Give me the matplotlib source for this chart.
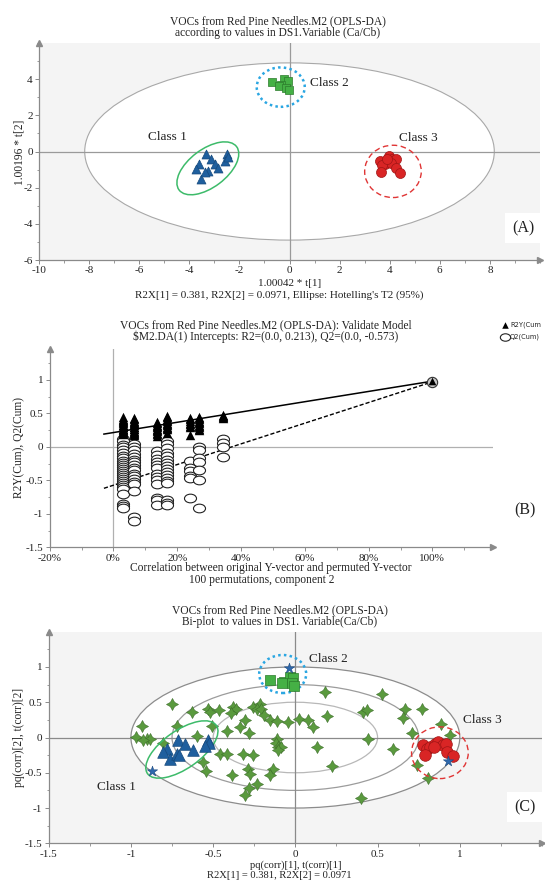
import matplotlib
matplotlib.use("Agg")
import matplotlib.pyplot as plt
import numpy as np
from matplotlib.patches import Ellipse, Circle
from matplotlib import transforms
from matplotlib.path import Path
from matplotlib.ticker import MultipleLocator, FuncFormatter

plt.rcParams['font.family'] = ['Liberation Serif', 'DejaVu Serif']

# ---------------- Panel A data (score plot) ----------------
a_class1_x = [-3.33, -3.60, -3.74, -3.12, -2.98, -2.84, -3.26, -3.54, -2.49, -2.56, -2.45, -3.38]
a_class1_y = [-0.15, -0.70, -0.98, -0.43, -0.70, -0.89, -1.07, -1.53, -0.15, -0.52, -0.33, -1.15]
a_class2_x = [-0.68, -0.20, -0.06, -0.34, -0.41, -0.13, -0.02]
a_class2_y = [3.82, 4.00, 3.91, 3.67, 3.60, 3.49, 3.39]
a_class3_x = [3.62, 3.83, 3.97, 4.08, 4.25, 4.04, 3.70, 3.67, 4.25, 4.43, 3.90]
a_class3_y = [-0.55, -0.70, -0.24, -0.43, -0.43, -0.61, -0.74, -1.16, -0.94, -1.20, -0.43]
a_class_labels = ["Class 1", "Class 2", "Class 3"]
a_xticks = [-10, -8, -6, -4, -2, 0, 2, 4, 6, 8]
a_yticks = [-6, -4, -2, 0, 2, 4]

# ---------------- Panel B data (permutation test) ----------------
b_xcols = [3.0, 6.4, 13.7, 16.8, 24.0, 26.9, 34.4]
b_r2 = [
    [0.44, 0.42, 0.40, 0.38, 0.37, 0.35, 0.33, 0.32, 0.30, 0.29, 0.27, 0.26, 0.25, 0.23, 0.22, 0.20, 0.19],
    [0.43, 0.41, 0.39, 0.37, 0.35, 0.34, 0.32, 0.30, 0.29, 0.27, 0.26, 0.24, 0.22, 0.21, 0.19, 0.17],
    [0.37, 0.35, 0.33, 0.31, 0.29, 0.27, 0.25, 0.23, 0.21, 0.19, 0.16],
    [0.46, 0.44, 0.42, 0.40, 0.38, 0.36, 0.34, 0.32, 0.30, 0.28, 0.26, 0.21],
    [0.43, 0.41, 0.38, 0.36, 0.34, 0.31, 0.29, 0.17],
    [0.45, 0.43, 0.41, 0.39, 0.37, 0.35, 0.33, 0.31, 0.29, 0.27, 0.25],
    [0.48, 0.46, 0.44, 0.43],
]
b_q2 = [
    [0.12, 0.08, 0.03, -0.01, -0.05, -0.09, -0.13, -0.17, -0.21, -0.24, -0.27, -0.30, -0.33, -0.36,
     -0.39, -0.42, -0.45, -0.48, -0.51, -0.54, -0.57, -0.60, -0.63, -0.70, -0.85, -0.88, -0.92],
    [0.04, 0.0, -0.05, -0.10, -0.15, -0.19, -0.23, -0.27, -0.31, -0.35, -0.40, -0.44, -0.48, -0.52,
     -0.56, -0.66, -1.05, -1.10],
    [-0.07, -0.12, -0.18, -0.22, -0.27, -0.32, -0.40, -0.45, -0.50, -0.55, -0.76, -0.80, -0.87],
    [0.08, 0.04, -0.02, -0.09, -0.14, -0.19, -0.24, -0.28, -0.33, -0.37, -0.42, -0.46, -0.51, -0.54,
     -0.80, -0.84, -0.87],
    [-0.21, -0.31, -0.36, -0.44, -0.47, -0.76],
    [-0.01, -0.05, -0.16, -0.22, -0.35, -0.49, -0.91],
    [0.12, 0.05, -0.01, -0.15],
]
b_model_x = 100.0
b_model_r2 = 0.98
b_model_q2 = 0.97
b_r2_intercept = 0.213
b_q2_intercept = -0.573
b_xticks = [-20, 0, 20, 40, 60, 80, 100]
b_yticks = [-1.5, -1, -0.5, 0, 0.5, 1]

# ---------------- Panel C data (bi-plot) ----------------
c_var_x = [0.18, 0.53, -0.75, -0.63, -0.533, -0.519, -0.462, -0.378, -0.361, -0.391, -0.256, -0.215,
           -0.236, -0.206, -0.306, -0.155, -0.114, -0.043, 0.024, 0.075, 0.109, 0.19, 0.413, 0.434,
           -0.933, -0.721, -0.507, -0.418, -0.337, -0.28, -0.969, -0.904, -0.884, -0.925, -0.803, -0.6,
           -0.114, -0.118, -0.104, -0.088, 0.129, 0.443, 0.591, -0.458, -0.418, -0.316, -0.256, -0.56,
           -0.543, -0.387, -0.287, -0.276, -0.134, -0.155, 0.22, -0.236, -0.28, -0.306, 0.398, 0.666,
           0.768, 0.656, 0.888, 0.709, 0.941, 0.74, 0.807, -0.19, -0.105]
c_var_y = [0.64, 0.61, 0.47, 0.36, 0.40, 0.36, 0.39, 0.43, 0.40, 0.35, 0.435, 0.47,
           0.40, 0.41, 0.246, 0.246, 0.236, 0.22, 0.26, 0.246, 0.142, 0.30, 0.364, 0.388,
           0.16, 0.16, 0.16, 0.089, 0.142, 0.07, 0.01, -0.02, -0.02, -0.04, -0.085, 0.023,
           -0.015, -0.085, -0.14, -0.133, -0.133, -0.015, -0.156, -0.227, -0.227, -0.237, -0.251, -0.346,
           -0.479, -0.536, -0.44, -0.511, -0.44, -0.536, -0.408, -0.654, -0.715, -0.82, -0.852, 0.40,
           0.40, 0.28, 0.19, 0.057, 0.033, -0.39, -0.58, 0.317, -0.18]
c_centroid_x = [-0.036, -0.872, 0.93]
c_centroid_y = [0.98, -0.473, -0.33]
c_class1_x = [-0.716, -0.671, -0.624, -0.533, -0.525, -0.55, -0.782, -0.807, -0.763, -0.721, -0.706]
c_class1_y = [-0.03, -0.095, -0.18, -0.04, -0.085, -0.124, -0.157, -0.204, -0.30, -0.227, -0.251]
c_class2_x = [-0.155, -0.069, -0.033, -0.013, -0.022, -0.007, -0.083]
c_class2_y = [0.814, 0.79, 0.86, 0.84, 0.776, 0.733, 0.776]
c_class3_x = [0.774, 0.798, 0.818, 0.849, 0.869, 0.899, 0.915, 0.92, 0.96, 0.788, 0.845]
c_class3_y = [-0.109, -0.157, -0.133, -0.086, -0.062, -0.109, -0.095, -0.204, -0.265, -0.25, -0.133]
c_rings = [1.0, 0.75, 0.5]
c_xticks = [-1.5, -1, -0.5, 0, 0.5, 1]
c_yticks = [-1.5, -1, -0.5, 0, 0.5, 1]

# ---------------- figure ----------------
W, H = 545, 882
fig = plt.figure(figsize=(W / 100, H / 100), dpi=100)


def fx(px):
    return px / W


def fy(py):
    return 1 - py / H


def axes_px(l, t, r, b):
    return fig.add_axes([fx(l), fy(b), (r - l) / W, (b - t) / H])


AX_GRAY = '#8a8a8a'
BG = '#f4f4f4'
TXT = '#222222'


def style_axes(ax):
    for s in ['top', 'right']:
        ax.spines[s].set_visible(False)
    for s in ['left', 'bottom']:
        ax.spines[s].set_color(AX_GRAY)
        ax.spines[s].set_linewidth(0.9)
    ax.tick_params(which='major', length=3, width=0.7, color=AX_GRAY, labelsize=8, labelcolor=TXT, pad=1.5)
    ax.tick_params(which='minor', length=1.8, width=0.6, color=AX_GRAY)
    ax.plot(1, 0, '>', transform=ax.transAxes, clip_on=False, color=AX_GRAY, ms=4.5, zorder=10)
    ax.plot(0, 1, '^', transform=ax.transAxes, clip_on=False, color=AX_GRAY, ms=4.5, zorder=10)


def num_fmt(v, pos):
    if abs(v - round(v)) < 1e-9:
        return '%d' % round(v)
    return ('%g' % v)


def px_ellipse(ax, cx, cy, wpx, hpx, angle=0, **kw):
    trans = fig.dpi_scale_trans + transforms.ScaledTranslation(cx, cy, ax.transData)
    e = Ellipse((0, 0), wpx / 100, hpx / 100, angle=angle, transform=trans, fill=False, **kw)
    ax.add_patch(e)
    return e


def title_lines(lines, xpx, ypxs, size=8.3):
    for t, yy in zip(lines, ypxs):
        fig.text(fx(xpx), fy(yy), t, ha='center', va='center', fontsize=size, color=TXT)


# ======== Panel A ========
axA = axes_px(39, 43, 540, 260)
axA.set_facecolor(BG)
axA.set_xlim(-10, 10)
axA.set_ylim(-6, 6)
style_axes(axA)
axA.add_patch(Ellipse((0, 0), 16.35, 9.8, facecolor='white', edgecolor='#a8a8a8', lw=0.8, zorder=1))
axA.axhline(0, color='#9a9a9a', lw=0.9, zorder=2)
axA.axvline(0, color='#9a9a9a', lw=0.9, zorder=2)
axA.set_xticks(a_xticks)
axA.set_yticks(a_yticks)
axA.xaxis.set_minor_locator(MultipleLocator(1))
axA.yaxis.set_minor_locator(MultipleLocator(1))
axA.xaxis.set_major_formatter(FuncFormatter(num_fmt))
axA.yaxis.set_major_formatter(FuncFormatter(num_fmt))
axA.scatter(a_class1_x, a_class1_y, marker='^', s=42, c='#1f5f9e', edgecolors='#174a7c', linewidths=0.5, zorder=5)
axA.scatter(a_class2_x, a_class2_y, marker='s', s=38, c='#45b045', edgecolors='#2c7a2c', linewidths=0.5, zorder=5)
axA.scatter(a_class3_x, a_class3_y, marker='o', s=52, c='#d92525', edgecolors='#a01515', linewidths=0.5, zorder=5)
px_ellipse(axA, -3.26, -0.93, 72, 38, angle=37, edgecolor='#3dbb6a', lw=1.1, zorder=4)
px_ellipse(axA, -0.35, 3.56, 48, 39.4, edgecolor='#2aa6e2', lw=1.8, linestyle=(0, (1, 1.3)), zorder=4)
px_ellipse(axA, 4.13, -1.10, 56.6, 52.3, edgecolor='#e03535', lw=1.0, linestyle=(0, (4, 2.5)), zorder=4)
axA.text(-4.86, 0.81, a_class_labels[0], fontsize=9.5, color=TXT, ha='center', va='center')
axA.text(1.61, 3.78, a_class_labels[1], fontsize=9.5, color=TXT, ha='center', va='center')
axA.text(5.15, 0.72, a_class_labels[2], fontsize=9.5, color=TXT, ha='center', va='center')
fig.text(fx(523), fy(228), '(A)', fontsize=11.5, ha='center', va='center', color=TXT,
         bbox=dict(facecolor='white', edgecolor='none', pad=5))
title_lines(['VOCs from Red Pine Needles.M2 (OPLS-DA)',
             'according to values in DS1.Variable (Ca/Cb)'], 278, [21, 33])
fig.text(fx(290), fy(283.5), '1.00042 * t[1]', ha='center', va='center', fontsize=8.0, color=TXT)
fig.text(fx(279), fy(295), "R2X[1] = 0.381, R2X[2] = 0.0971, Ellipse: Hotelling's T2 (95%)",
         ha='center', va='center', fontsize=8.0, color=TXT)
fig.text(fx(19), fy(152), '1.00196 * t[2]', rotation=90, ha='center', va='center', fontsize=8.3, color=TXT)

# ======== Panel B ========
axB = axes_px(49.7, 349, 493, 547.3)
axB.set_facecolor('white')
axB.set_xlim(-20, 119)
axB.set_ylim(-1.5, 1.46)
style_axes(axB)
axB.axhline(0, color='#b0b0b0', lw=0.9, zorder=1)
axB.axvline(0, color='#b0b0b0', lw=0.9, zorder=1)
axB.set_xticks(b_xticks)
axB.set_yticks(b_yticks)
axB.xaxis.set_minor_locator(MultipleLocator(10))
axB.yaxis.set_minor_locator(MultipleLocator(0.25))
axB.xaxis.set_major_formatter(FuncFormatter(lambda v, p: '%d%%' % round(v)))
axB.yaxis.set_major_formatter(FuncFormatter(num_fmt))

ell = Path.unit_circle()
ell_marker = Path(ell.vertices * np.array([1.0, 0.72]), ell.codes)

x0 = -3.0
r2_slope = (b_model_r2 - b_r2_intercept) / b_model_x
q2_slope = (b_model_q2 - b_q2_intercept) / b_model_x
axB.plot([x0, b_model_x], [b_r2_intercept + r2_slope * x0, b_model_r2], color='black', lw=1.1, zorder=3)
axB.plot([x0, b_model_x], [b_q2_intercept + q2_slope * x0, b_model_q2], color='black', lw=1.0,
         linestyle=(0, (3, 1.5)), zorder=3)
for xc, vals in zip(b_xcols, b_q2):
    axB.scatter([xc] * len(vals), vals, marker=ell_marker, s=75, facecolors='white',
                edgecolors='#222222', linewidths=0.8, zorder=4)
for xc, vals in zip(b_xcols, b_r2):
    axB.scatter([xc] * len(vals), vals, marker='^', s=46, c='black', linewidths=0, zorder=5)
axB.scatter([b_model_x], [b_model_q2], marker='o', s=55, facecolors='#c8c8c8', edgecolors='#333333',
            linewidths=0.8, zorder=4)
axB.scatter([b_model_x], [b_model_r2], marker='^', s=30, c='black', linewidths=0, zorder=5)

title_lines(['VOCs from Red Pine Needles.M2 (OPLS-DA): Validate Model',
             '$M2.DA(1) Intercepts: R2=(0.0, 0.213), Q2=(0.0, -0.573)'], 266, [325.7, 337])
fig.text(fx(271), fy(568), 'Correlation between original Y-vector and permuted Y-vector',
         ha='center', va='center', fontsize=8.3, color=TXT)
fig.text(fx(262), fy(579.5), '100 permutations, component 2', ha='center', va='center', fontsize=8.3, color=TXT)
fig.text(fx(19), fy(447), 'R2Y(Cum), Q2(Cum)', rotation=90, ha='center', va='center', fontsize=8.3, color=TXT)
fig.text(fx(525), fy(510), '(B)', fontsize=11.5, ha='center', va='center', color=TXT)
# legend
legax = fig.add_axes([0, 0, 1, 1], facecolor='none')
legax.set_xlim(0, W)
legax.set_ylim(H, 0)
legax.axis('off')
legax.scatter([505], [324.5], marker='^', s=22, c='black', linewidths=0)
legax.scatter([505], [337], marker=ell_marker, s=55, facecolors='white', edgecolors='#222', linewidths=0.8)
legax.text(510, 324.5, 'R2Y(Cum', fontsize=4.8, va='center', ha='left', family='DejaVu Sans', color=TXT)
legax.text(510, 337, 'Q2(Cum)', fontsize=4.8, va='center', ha='left', family='DejaVu Sans', color=TXT)

# ======== Panel C ========
axC = axes_px(48.7, 631.7, 542, 843.3)
axC.set_facecolor(BG)
axC.set_xlim(-1.5, 1.5)
axC.set_ylim(-1.5, 1.5)
style_axes(axC)
ring_colors = ['#8c8c8c', '#9c9c9c', '#b8b8b8']
axC.add_patch(Circle((0, 0), c_rings[0], facecolor='white', edgecolor='none', zorder=1))
for r, col in zip(c_rings, ring_colors):
    axC.add_patch(Circle((0, 0), r, facecolor='none', edgecolor=col, lw=0.9, zorder=2))
axC.axhline(0, color='#8a8a8a', lw=0.9, zorder=2)
axC.axvline(0, color='#8a8a8a', lw=0.9, zorder=2)
axC.set_xticks(c_xticks)
axC.set_yticks(c_yticks)
axC.xaxis.set_minor_locator(MultipleLocator(0.25))
axC.yaxis.set_minor_locator(MultipleLocator(0.25))
axC.xaxis.set_major_formatter(FuncFormatter(num_fmt))
axC.yaxis.set_major_formatter(FuncFormatter(num_fmt))
axC.scatter(c_var_x, c_var_y, marker=(4, 1, 0), s=75, c='#5a9a3e', edgecolors='#3d6e2a', linewidths=0.4, zorder=4)
axC.scatter(c_class1_x, c_class1_y, marker='^', s=70, c='#1f5f9e', edgecolors='#174a7c', linewidths=0.5, zorder=5)
axC.scatter(c_class2_x, c_class2_y, marker='s', s=55, c='#45b045', edgecolors='#2c7a2c', linewidths=0.5, zorder=5)
axC.scatter(c_class3_x, c_class3_y, marker='o', s=70, c='#d92525', edgecolors='#a01515', linewidths=0.5, zorder=5)
axC.scatter(c_centroid_x, c_centroid_y, marker='*', s=60, c='#2e68ad', edgecolors='#1d4a80', linewidths=0.4, zorder=6)
px_ellipse(axC, -0.69, -0.17, 84, 38, angle=35, edgecolor='#3dbb6a', lw=1.1, zorder=4)
px_ellipse(axC, -0.077, 0.90, 47, 38, edgecolor='#2aa6e2', lw=1.8, linestyle=(0, (1, 1.3)), zorder=4)
px_ellipse(axC, 0.879, -0.216, 56.7, 51.7, edgecolor='#e03535', lw=1.0, linestyle=(0, (4, 2.5)), zorder=4)
axC.text(-1.09, -0.70, 'Class 1', fontsize=9.5, color=TXT, ha='center', va='center')
axC.text(0.20, 1.108, 'Class 2', fontsize=9.5, color=TXT, ha='center', va='center')
axC.text(1.14, 0.245, 'Class 3', fontsize=9.5, color=TXT, ha='center', va='center')
fig.text(fx(525), fy(807), '(C)', fontsize=11.5, ha='center', va='center', color=TXT,
         bbox=dict(facecolor='white', edgecolor='none', pad=5))
title_lines(['VOCs from Red Pine Needles.M2 (OPLS-DA)',
             'Bi-plot  to values in DS1. Variable(Ca/Cb)'], 280, [610, 621.7])
fig.text(fx(295.5), fy(865), 'pq(corr)[1], t(corr)[1]', ha='center', va='center', fontsize=7.6, color=TXT)
fig.text(fx(279), fy(876), 'R2X[1] = 0.381, R2X[2] = 0.0971', ha='center', va='center', fontsize=7.6, color=TXT)
fig.text(fx(19), fy(737), 'pq(corr)[2], t(corr)[2]', rotation=90, ha='center', va='center', fontsize=8.3, color=TXT)

fig.savefig('out.png', dpi=100)
